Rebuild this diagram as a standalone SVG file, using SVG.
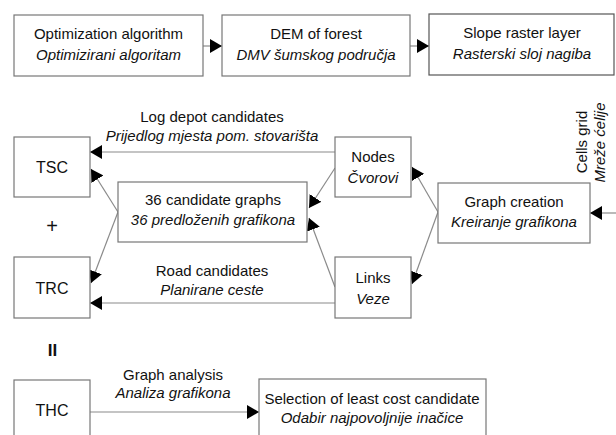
<svg xmlns="http://www.w3.org/2000/svg" width="616" height="435" viewBox="0 0 616 435">
<style>
.box{fill:#fff;stroke:#777;stroke-width:1.2}
.t{font-family:"Liberation Sans",Arial,sans-serif;font-size:15px;fill:#111;text-anchor:middle}
.i{font-style:italic}
.big{font-size:16px}
.ln{stroke:#8a8a8a;stroke-width:1.2;fill:none}
</style>
<defs>
<marker id="ah" markerUnits="userSpaceOnUse" markerWidth="13" markerHeight="14" refX="12" refY="7" orient="auto">
<path d="M0,0 L12,7 L0,14 z" fill="#000"/>
</marker>
</defs>
<rect width="616" height="435" fill="#fff"/>

<g id="connectors">
<line class="ln" x1="203" y1="46" x2="222" y2="46" marker-end="url(#ah)"/>
<line class="ln" x1="410" y1="46" x2="429" y2="46" marker-end="url(#ah)"/>
<line class="ln" x1="335" y1="152" x2="90" y2="152" marker-end="url(#ah)"/>
<line class="ln" x1="335" y1="303" x2="90" y2="303" marker-end="url(#ah)"/>
<line class="ln" x1="118" y1="212" x2="91" y2="169" marker-end="url(#ah)"/>
<line class="ln" x1="118" y1="212" x2="91" y2="283" marker-end="url(#ah)"/>
<line class="ln" x1="335" y1="168" x2="309" y2="208" marker-end="url(#ah)"/>
<line class="ln" x1="335" y1="287" x2="309" y2="218" marker-end="url(#ah)"/>
<line class="ln" x1="438" y1="212" x2="412" y2="167" marker-end="url(#ah)"/>
<line class="ln" x1="438" y1="212" x2="412" y2="284" marker-end="url(#ah)"/>
<line class="ln" x1="616" y1="213" x2="590" y2="213" marker-end="url(#ah)"/>
<line class="ln" x1="90" y1="412" x2="259" y2="412" marker-end="url(#ah)"/>
<text class="t" x="212" y="122">Log depot candidates</text>
<text class="t i" x="212" y="141">Prijedlog mjesta pom. stovarišta</text>
<text class="t" x="212" y="276">Road candidates</text>
<text class="t i" x="212" y="295">Planirane ceste</text>
<text class="t" x="173" y="380">Graph analysis</text>
<text class="t i" x="173" y="398">Analiza grafikona</text>
<text class="t" transform="translate(587,142) rotate(-90)">Cells grid</text>
<text class="t i" transform="translate(605,142.5) rotate(-90)">Mreže ćelije</text>
</g>

<g id="opt">
<rect class="box" x="14" y="15" width="189" height="61"/>
<text class="t" x="108.5" y="39">Optimization algorithm</text>
<text class="t i" x="108.5" y="60">Optimizirani algoritam</text>
</g>
<g id="dem">
<rect class="box" x="222" y="15" width="188" height="61"/>
<text class="t" x="316" y="39">DEM of forest</text>
<text class="t i" x="316" y="60">DMV šumskog područja</text>
</g>
<g id="slope">
<rect class="box" x="429" y="14" width="185" height="61" style="stroke:#555"/>
<text class="t" x="522" y="38">Slope raster layer</text>
<text class="t i" x="522" y="59">Rasterski sloj nagiba</text>
</g>

<g id="tsc">
<rect class="box" x="14" y="137" width="76" height="60"/>
<text class="t big" x="52" y="173">TSC</text>
</g>
<g id="plus"><text class="t" x="52" y="233" style="font-size:20px">+</text></g>
<g id="trc">
<rect class="box" x="14" y="257" width="76" height="61"/>
<text class="t big" x="52" y="294">TRC</text>
</g>
<g id="equals"><text class="t" x="52.5" y="356" style="font-size:17px;font-weight:bold">II</text></g>
<g id="thc">
<rect class="box" x="14" y="380" width="76" height="62"/>
<text class="t big" x="52" y="416">THC</text>
</g>

<g id="cand">
<rect class="box" x="118" y="182" width="189" height="60"/>
<text class="t" x="213" y="205">36 candidate graphs</text>
<text class="t i" x="213" y="225">36 predloženih grafikona</text>
</g>
<g id="nodes">
<rect class="box" x="335" y="137" width="76" height="60"/>
<text class="t" x="373" y="162">Nodes</text>
<text class="t i" x="373" y="183">Čvorovi</text>
</g>
<g id="links">
<rect class="box" x="335" y="257" width="76" height="61"/>
<text class="t" x="373" y="283">Links</text>
<text class="t i" x="373" y="304">Veze</text>
</g>
<g id="graphcreation">
<rect class="box" x="438" y="183" width="152" height="60"/>
<text class="t" x="514" y="207">Graph creation</text>
<text class="t i" x="514" y="227">Kreiranje grafikona</text>
</g>
<g id="selection">
<rect class="box" x="259" y="379" width="227" height="62"/>
<text class="t" x="372" y="404">Selection of least cost candidate</text>
<text class="t i" x="372" y="423">Odabir najpovoljnije inačice</text>
</g>
</svg>
